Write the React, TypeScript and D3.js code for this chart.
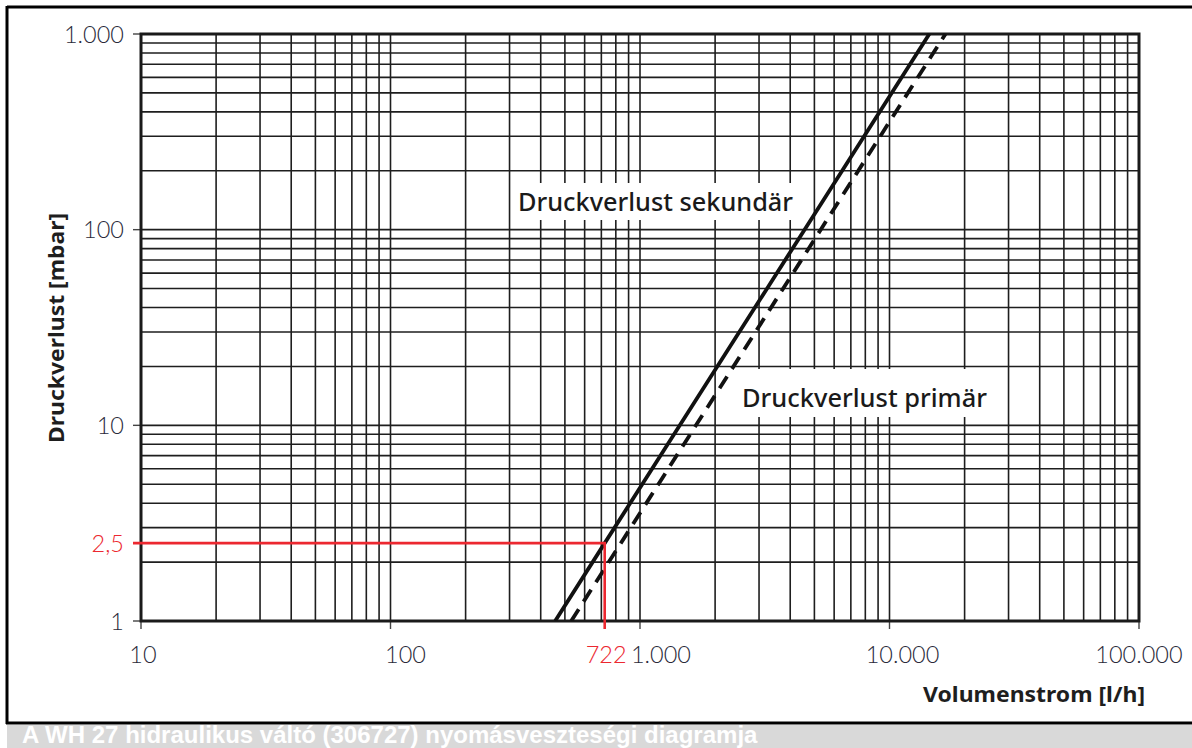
import * as d3 from "d3";

// chart values
const xTicks = [10, 100, 1000, 10000, 100000];
const xTickLabels = ["10", "100", "1.000", "10.000", "100.000"];
const yTicks = [1, 10, 100, 1000];
const yTickLabels = ["1", "10", "100", "1.000"];

// Druckverlust sekundär (solid)
const sekFlow = [457, 722, 1444, 4566, 14440];
const sekLoss = [1, 2.5, 10, 100, 1000];
// Druckverlust primär (dashed)
const primFlow = [530, 1676, 5300, 16760];
const primLoss = [1, 10, 100, 1000];

// marked operating point
const markFlow = 722;
const markLoss = 2.5;

const W = 1192;
const H = 748;
const left = 141;
const right = 1139;
const top = 34;
const bottom = 621;

const gridColor = "#1e1e1e";
const red = "#ec2830";
const labelFont = "'Noto Sans', 'DejaVu Sans', sans-serif";
const tickFont = "Lato, 'Open Sans', sans-serif";
const tickColor = "#2a2a3a";

const xLabelShift = [2, 15, 21, 13, 0];

export default function App() {
  const x = d3.scaleLog().domain([10, 100000]).range([left, right]);
  const y = d3.scaleLog().domain([1, 1000]).range([bottom, top]);

  // minor grid: 1..9 per decade
  const xGrid: number[] = [];
  for (let d = 10; d < 100000; d *= 10) for (let k = 1; k <= 9; k++) xGrid.push(d * k);
  xGrid.push(100000);
  const yGrid: number[] = [];
  for (let d = 1; d < 1000; d *= 10) for (let k = 1; k <= 9; k++) yGrid.push(d * k);
  yGrid.push(1000);

  const line = d3
    .line<[number, number]>()
    .x((d) => x(d[0]))
    .y((d) => y(d[1]));

  const sek = sekFlow.map((q, i) => [q, sekLoss[i]] as [number, number]);
  const prim = primFlow.map((q, i) => [q, primLoss[i]] as [number, number]);

  return (
    <svg
      width={W}
      height={H}
      style={{ position: "absolute", left: 0, top: 0, background: "#fff" }}
    >
      <defs>
        <clipPath id="plot">
          <rect x={left} y={top - 1} width={right - left} height={bottom - top + 1} />
        </clipPath>
      </defs>

      {/* outer frame */}
      <line x1={7} x2={W} y1={7} y2={7} stroke="#000" strokeWidth={3} />
      <line x1={7} x2={7} y1={6} y2={724} stroke="#000" strokeWidth={3} />
      <line x1={6} x2={W} y1={723} y2={723} stroke="#000" strokeWidth={3} />
      <rect x={7} y={725} width={W} height={H - 725} fill="#d9d9d9" />
      <text
        x={22}
        y={743}
        fill="#fff"
        fontFamily="'Liberation Sans', Arial, sans-serif"
        fontWeight="bold"
        fontSize={24}
      >
        A WH 27 hidraulikus váltó (306727) nyomásveszteségi diagramja
      </text>

      {/* grid */}
      {xGrid.map((v, i) => (
        <line key={"gx" + i} x1={x(v)} x2={x(v)} y1={top} y2={bottom} stroke={gridColor} strokeWidth={1.6} />
      ))}
      {yGrid.map((v, i) => (
        <line key={"gy" + i} x1={left} x2={right} y1={y(v)} y2={y(v)} stroke={gridColor} strokeWidth={1.6} />
      ))}

      {/* ticks */}
      {xTicks.map((v, i) => (
        <line key={"tx" + i} x1={x(v)} x2={x(v)} y1={bottom} y2={bottom + 8} stroke="#444" strokeWidth={1.4} />
      ))}
      {yTicks.map((v, i) => (
        <line key={"ty" + i} x1={left - 8} x2={left} y1={y(v)} y2={y(v)} stroke="#444" strokeWidth={1.4} />
      ))}

      {/* label boxes that break the grid */}
      <rect x={512} y={183} width={290} height={37} fill="#fff" />
      <rect x={735} y={369} width={262} height={48} fill="#fff" />

      {/* plot frame */}
      <rect
        x={left}
        y={top}
        width={right - left}
        height={bottom - top}
        fill="none"
        stroke="#1a1a1a"
        strokeWidth={3}
      />

      {/* curves */}
      <g clipPath="url(#plot)">
        <path d={line(sek) ?? ""} fill="none" stroke="#111" strokeWidth={3.8} />
        <path
          d={line(prim) ?? ""}
          fill="none"
          stroke="#111"
          strokeWidth={3.8}
          strokeDasharray="14 9"
        />
      </g>

      {/* red marker */}
      <polyline
        points={`${left - 8},${y(markLoss)} ${x(markFlow)},${y(markLoss)} ${x(markFlow)},${bottom + 8}`}
        fill="none"
        stroke={red}
        strokeWidth={2.6}
      />

      {/* tick labels */}
      {xTicks.map((v, i) => (
        <text
          key={"lx" + i}
          x={x(v) + xLabelShift[i]}
          y={663}
          textAnchor="middle"
          fontFamily={tickFont}
          fontWeight={300}
          fontSize={23.5}
          fill={tickColor}
        >
          {xTickLabels[i]}
        </text>
      ))}
      {yTicks.map((v, i) => (
        <text
          key={"ly" + i}
          x={124}
          y={y(v) + 8.5}
          textAnchor="end"
          fontFamily={tickFont}
          fontWeight={300}
          fontSize={23.5}
          fill={tickColor}
        >
          {yTickLabels[i]}
        </text>
      ))}
      <text x={124} y={y(markLoss) + 8.5} textAnchor="end" fontFamily={tickFont} fontWeight={300} fontSize={23.5} fill={red}>
        2,5
      </text>
      <text x={x(markFlow) - 19} y={663} textAnchor="start" fontFamily={tickFont} fontWeight={300} fontSize={23.5} fill={red}>
        722
      </text>

      {/* axis titles */}
      <text
        x={1145}
        y={702}
        textAnchor="end"
        fontFamily={labelFont}
        fontWeight="bold"
        fontSize={21}
        fill="#1e1e1e"
        textLength={222}
        lengthAdjust="spacingAndGlyphs"
      >
        Volumenstrom [l/h]
      </text>
      <text
        transform="translate(64,328) rotate(-90)"
        textAnchor="middle"
        fontFamily={labelFont}
        fontWeight="bold"
        fontSize={22}
        fill="#1e1e1e"
        textLength={230}
        lengthAdjust="spacingAndGlyphs"
      >
        Druckverlust [mbar]
      </text>

      {/* curve labels */}
      <text
        x={518}
        y={211}
        fontFamily={labelFont}
        fontWeight={500}
        fontSize={25}
        fill="#1a1a1a"
        textLength={275}
        lengthAdjust="spacingAndGlyphs"
      >
        Druckverlust sekundär
      </text>
      <text
        x={742}
        y={407}
        fontFamily={labelFont}
        fontWeight={500}
        fontSize={25}
        fill="#1a1a1a"
        textLength={245}
        lengthAdjust="spacingAndGlyphs"
      >
        Druckverlust primär
      </text>
    </svg>
  );
}
